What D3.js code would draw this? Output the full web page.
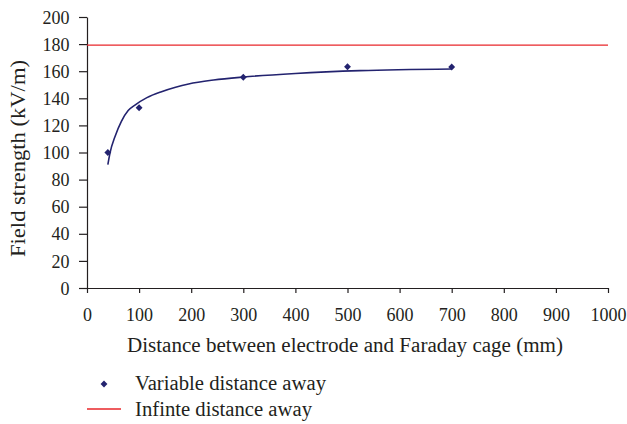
<!DOCTYPE html>
<html><head><meta charset="utf-8">
<script src="https://cdn.jsdelivr.net/npm/d3@7"></script>
</head><body style="margin:0;background:#fff"><svg id="c" width="627" height="424" style="display:block"></svg>
<script>
const xTicks = [0,100,200,300,400,500,600,700,800,900,1000];
const yTicks = [0,20,40,60,80,100,120,140,160,180,200];
const pointX = [40,100,300,500,700];
const pointY = [100,133,155.5,163.3,163.1];
const curveX = [40,44,54,66,79,92,115,143,170,195,243,300,400,524,700];
const curveY = [91,99.4,112,123,131,135,140.5,144.9,148.2,150.6,153.5,155.7,158.3,160.4,161.6];
const infiniteValue = 179.3;
const xTitle = "Distance between electrode and Faraday cage (mm)";
const yTitle = "Field strength (kV/m)";
const legendLabels = ["Variable distance away","Infinte distance away"];

const FONT = "Liberation Serif";
const INK = "#231f20";
const svg = d3.select("#c").attr("font-family",FONT);
const x = d3.scaleLinear().domain([0,1000]).range([87,608]);
const y = d3.scaleLinear().domain([0,200]).range([288,17]);
const navy = "#23236f", red = "#e8262a";

const yAxis = svg.append("g").attr("transform","translate(87,0)")
  .call(d3.axisLeft(y).tickValues(yTicks).tickFormat(d3.format("d")).tickSize(8).tickPadding(5).tickSizeOuter(0));
const xAxis = svg.append("g").attr("transform","translate(0,288)")
  .call(d3.axisBottom(x).tickValues(xTicks).tickFormat(d3.format("d")).tickSize(5).tickPadding(14).tickSizeOuter(0));
[xAxis,yAxis].forEach(a=>{
  a.attr("font-family",FONT).attr("font-size",18);
  a.selectAll("path,line").attr("stroke",INK).attr("stroke-width",1.2);
  a.selectAll("text").attr("font-family",FONT).attr("font-size",18).attr("fill",INK);
});
yAxis.selectAll("text").attr("x",-17.5).attr("dy","0.34em");
xAxis.selectAll("text").attr("dy",null).attr("y",32.5);

svg.append("line").attr("x1",x(0)).attr("x2",x(1000))
  .attr("y1",y(infiniteValue)).attr("y2",y(infiniteValue))
  .attr("stroke",red).attr("stroke-width",1.3);

const line = d3.line().x(d=>x(d[0])).y(d=>y(d[1])).curve(d3.curveMonotoneX);
svg.append("path").datum(curveX.map((v,i)=>[v,curveY[i]])).attr("d",line)
  .attr("fill","none").attr("stroke",navy).attr("stroke-width",1.6);

const diamond = d3.symbol().type(d3.symbolDiamond2).size(30);
svg.selectAll(".pt").data(pointX.map((v,i)=>[v,pointY[i]])).join("path")
  .attr("d",diamond).attr("transform",d=>`translate(${x(d[0])},${y(d[1])})`).attr("fill",navy);

function label(sel){ return sel.attr("font-family",FONT).attr("fill",INK).attr("lengthAdjust","spacingAndGlyphs"); }
label(svg.append("text")).attr("x",127).attr("y",352).attr("textLength",436)
  .attr("font-size",20).text(xTitle);
label(svg.append("text")).attr("transform","translate(25,257) rotate(-90)").attr("textLength",197)
  .attr("font-size",20).text(yTitle);

svg.append("path").attr("d",diamond).attr("transform","translate(104,384)").attr("fill",navy);
svg.append("line").attr("x1",87).attr("x2",121).attr("y1",409).attr("y2",409).attr("stroke",red).attr("stroke-width",1.3);
label(svg.append("text")).attr("x",135).attr("y",390).attr("textLength",191)
  .attr("font-size",20.5).text(legendLabels[0]);
label(svg.append("text")).attr("x",135).attr("y",416).attr("textLength",177)
  .attr("font-size",20.5).text(legendLabels[1]);
</script></body></html>
